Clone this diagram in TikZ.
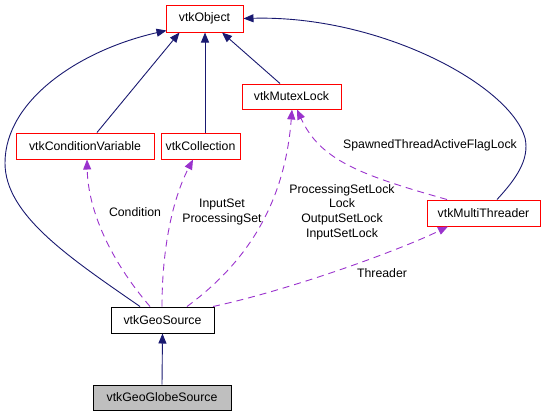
\documentclass[tikz,border=0pt]{standalone}
\usepackage{fontspec}
\setmainfont{Liberation Sans}
\usetikzlibrary{arrows.meta}
\definecolor{navyedge}{HTML}{191970}
\definecolor{purpedge}{HTML}{9A32CD}
\definecolor{boxred}{HTML}{FF0000}
\definecolor{boxgray}{HTML}{BFBFBF}
\tikzset{
  cls/.style={draw=boxred, line width=1pt, fill=white, inner sep=0pt,
    minimum height=26pt, font=\fontsize{12.3}{14.7}\selectfont},
  inh/.style={draw=navyedge, line width=0.9pt, -{Triangle[length=10pt,width=8pt]}},
  use/.style={draw=purpedge, line width=0.9pt, dash pattern=on 7pt off 5pt,
    -{Triangle[length=10pt,width=8pt,fill=purpedge]}},
  lbl/.style={align=center, inner sep=0pt, font=\fontsize{12.3}{14.7}\selectfont}
}
\begin{document}
\begin{tikzpicture}[x=1pt,y=-1pt]
\useasboundingbox (0,0) rectangle (545,416);
% nodes
\node[cls, minimum width=77pt, minimum height=27pt] (obj) at (204.5,18.5) {vtkObject};
\node[cls, minimum width=138pt] (cv) at (85,146) {vtkConditionVariable};
\node[cls, minimum width=79pt] (col) at (200.5,146) {vtkCollection};
\node[cls, minimum width=99pt, minimum height=25pt] (mut) at (291.5,96.5) {vtkMutexLock};
\node[cls, minimum width=113pt] (mt) at (483.5,213) {vtkMultiThreader};
\node[cls, draw=black, minimum width=103pt] (geo) at (162.5,320) {vtkGeoSource};
\node[cls, draw=black, fill=boxgray, minimum width=138pt, minimum height=25pt] (glob) at (162,397.5) {vtkGeoGlobeSource};
% inheritance edges
\draw[inh] ([xshift=12pt]cv.north) -- ([xshift=-25pt]obj.south);
\draw[inh] ([xshift=4.5pt]col.north) -- ([xshift=0.5pt]obj.south);
\draw[inh] ([xshift=-11.5pt]mut.north) -- ([xshift=17.5pt]obj.south);
\draw[inh] ([xshift=13.5pt]mt.north) .. controls (515,180) and (530,160) .. (525,138)
  .. controls (510,85) and (380,15) .. (obj.east);
\draw[inh] ([xshift=-22.5pt]geo.north) .. controls (70,258) and (5,215) .. (5,163)
  .. controls (5,100) and (80,50) .. ([xshift=1pt,yshift=2pt]obj.south west);
\draw[inh] (glob.north) -- (geo.south);
% usage edges
\draw[use] ([xshift=-12.5pt]geo.north) .. controls (110,260) and (88,210) .. ([xshift=2pt]cv.south);
\draw[use] ([xshift=-0.5pt]geo.north) .. controls (162,250) and (172,200) .. ([xshift=-7.5pt]col.south);
\draw[use] ([xshift=24.5pt]geo.north) .. controls (250,260) and (285,200) .. ([xshift=0.5pt]mut.south);
\draw[use] ([xshift=50.5pt]geo.north) .. controls (290,290) and (400,250) .. ([xshift=-35.5pt]mt.south);
\draw[use] ([xshift=-36.5pt]mt.north) .. controls (360,175) and (320,160) .. ([xshift=5.5pt]mut.south);
% labels
\node[lbl] (lcond) at (135,212) {Condition};
\node[lbl] (lcol) at (222,212) {InputSet\\ProcessingSet};
\node[lbl] (lmut) at (342,212) {ProcessingSetLock\\Lock\\OutputSetLock\\InputSetLock};
\node[lbl] (lthr) at (382,273) {Threader};
\node[lbl] (lspawn) at (430,145) {SpawnedThreadActiveFlagLock};
\end{tikzpicture}
\end{document}
